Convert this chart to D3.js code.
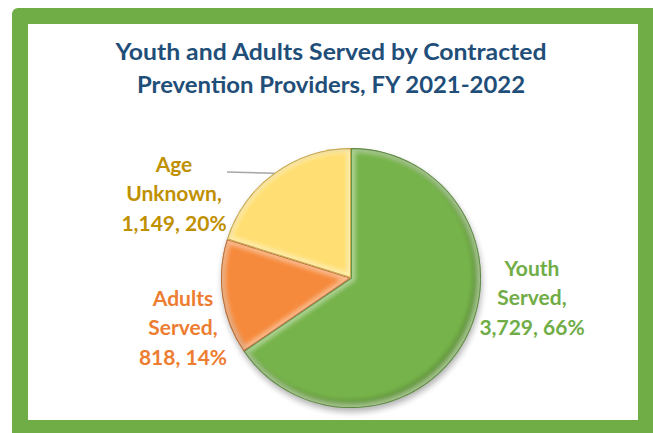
<!DOCTYPE html>
<html>
<head>
<meta charset="utf-8">
<script src="https://cdn.jsdelivr.net/npm/d3@7"></script>
<style>
  html, body { margin: 0; padding: 0; background: #fff; }
  svg { display: block; }
  text { font-family: Lato, "Open Sans", sans-serif; font-weight: 700; }
</style>
</head>
<body>
<svg id="chart" width="653" height="433"></svg>
<script>
// Participants served, FY 2021-2022
const categories = ["Youth Served", "Adults Served", "Age Unknown"];
const labelLines = [["Youth", "Served,"], ["Adults", "Served,"], ["Age", "Unknown,"]];
const counts = [3729, 818, 1149];
const percents = [66, 14, 20];
const titleLines = ["Youth and Adults Served by Contracted", "Prevention Providers, FY 2021-2022"];

const sliceColors = ["#76B34A", "#F68A3C", "#FFDF73"];
const edgeColors = ["#3F6E24", "#A24E12", "#B08A20"];
const labelColors = ["#70AD47", "#ED7D31", "#BF9000"];

const W = 653, H = 433;
const svg = d3.select("#chart");
const defs = svg.append("defs");

// frame
svg.append("rect").attr("x", 12).attr("y", 8).attr("width", W - 12 + 6).attr("height", H - 8 + 6)
  .attr("rx", 6).attr("fill", "#70AD47");
svg.append("rect").attr("x", 28).attr("y", 24).attr("width", 610).attr("height", 396).attr("fill", "#fff");

// title
const titleW = [431, 388];
svg.append("g").selectAll("text").data(titleLines).join("text")
  .attr("x", 331).attr("y", (d, i) => 60 + i * 33.3)
  .attr("text-anchor", "middle")
  .attr("font-size", 22.5)
  .attr("fill", "#1F4E79")
  .attr("textLength", (d, i) => titleW[i])
  .attr("lengthAdjust", "spacingAndGlyphs")
  .text(d => d);

// pie
const cx = 351, cy = 278, R = 130;
const pie = d3.pie().sort(null).value(d => d.count);
const data = categories.map((c, i) => ({ cat: c, count: counts[i], pct: percents[i], i }));
const arcs = pie(data);
const arc = d3.arc().innerRadius(0).outerRadius(R);

const blurS = defs.append("filter").attr("id", "soft").attr("x", "-20%").attr("y", "-20%").attr("width", "140%").attr("height", "140%");
blurS.append("feGaussianBlur").attr("stdDeviation", 3);
const blurB = defs.append("filter").attr("id", "band").attr("x", "-20%").attr("y", "-20%").attr("width", "140%").attr("height", "140%");
blurB.append("feGaussianBlur").attr("stdDeviation", 2.2);

const g = svg.append("g").attr("transform", `translate(${cx},${cy})`);

// drop shadow beneath the pie
g.append("circle").attr("cx", 1).attr("cy", 4).attr("r", R)
  .attr("fill", "#000").attr("opacity", 0.3).attr("filter", "url(#soft)");

arcs.forEach((a, k) => {
  const p = arc(a);
  defs.append("clipPath").attr("id", "clip" + k).append("path").attr("d", p).attr("transform", `translate(${cx},${cy})`);
  g.append("path").attr("d", p).attr("fill", sliceColors[k]);
  const inner = svg.append("g").attr("clip-path", `url(#clip${k})`)
    .append("g").attr("transform", `translate(${cx},${cy})`);
  // bevel: soft shade inside the lower-right rim, light band along every edge
  inner.append("circle").attr("r", R).attr("fill", "none").attr("stroke", "#000")
    .attr("stroke-width", 10).attr("opacity", 0.16).attr("transform", "translate(-3,-3)")
    .attr("filter", "url(#band)");
  inner.append("path").attr("d", p).attr("fill", "none").attr("stroke", "#fff")
    .attr("stroke-width", 9).attr("opacity", 0.4).attr("filter", "url(#band)");
  inner.append("path").attr("d", p).attr("fill", "none").attr("stroke", edgeColors[k])
    .attr("stroke-width", 1.8).attr("opacity", 0.7);
});

// leader line for the Age Unknown slice
const ageArc = arcs[2];
const mid = (ageArc.startAngle + ageArc.endAngle) / 2;
const rimPt = [cx + R * Math.sin(mid), cy - R * Math.cos(mid)];
svg.append("line").attr("x1", 227).attr("y1", 172).attr("x2", rimPt[0]).attr("y2", rimPt[1])
  .attr("stroke", "#A6A6A6").attr("stroke-width", 1.4);

// data labels
const labelPos = [[532, 276], [183, 306], [174, 172]];
const fmt = d3.format(",");
arcs.forEach((a, k) => {
  const lines = labelLines[k].concat([`${fmt(a.data.count)}, ${a.data.pct}%`]);
  svg.append("g").selectAll("text").data(lines).join("text")
    .attr("x", labelPos[k][0]).attr("y", (d, j) => labelPos[k][1] + j * 29.3)
    .attr("text-anchor", "middle")
    .attr("font-size", 21)
    .attr("fill", labelColors[k])
    .text(d => d);
});
</script>
</body>
</html>
